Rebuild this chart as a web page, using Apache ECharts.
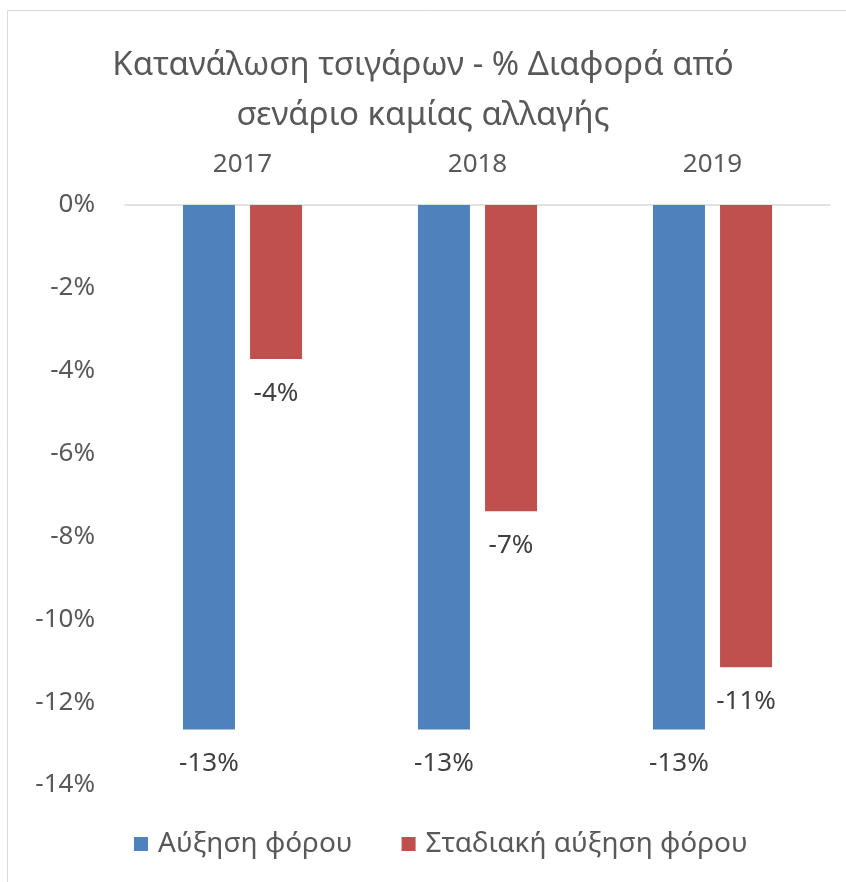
<!DOCTYPE html>
<html>
<head>
<meta charset="utf-8">
<script src="https://cdn.jsdelivr.net/npm/echarts@6/dist/echarts.min.js"></script>
<style>
  html, body { margin: 0; padding: 0; background: #fff; }
  #chart { width: 846px; height: 882px; }
</style>
</head>
<body>
<div id="chart"></div>
<script>
// data
var years = ['2017', '2018', '2019'];
var seriesNames = ['Αύξηση φόρου', 'Σταδιακή αύξηση φόρου'];
var taxRise = [-12.66, -12.66, -12.66];
var gradualRise = [-3.72, -7.39, -11.16];

var textFont = '"Noto Sans", sans-serif';

var chart = echarts.init(document.getElementById('chart'));

var barLabel = {
    show: true,
    position: 'bottom',
    distance: 21,
    color: '#404040',
    fontSize: 26,
    fontFamily: textFont,
    formatter: function (p) {
        return Math.round(p.value) + '%';
    }
};

var option = {
    backgroundColor: '#fff',
    animation: false,
    graphic: [{
        type: 'rect',
        shape: { x: 7.5, y: 10.5, width: 860, height: 900 },
        style: { fill: 'none', stroke: '#d9d9d9', lineWidth: 1 },
        silent: true
    }],
    title: {
        text: 'Κατανάλωση τσιγάρων - % Διαφορά από\nσενάριο καμίας αλλαγής',
        left: 'center',
        top: 36,
        textStyle: {
            color: '#595959',
            fontSize: 33,
            fontWeight: 'normal',
            fontFamily: textFont,
            lineHeight: 50
        }
    },
    legend: {
        bottom: 19,
        left: 129,
        itemWidth: 14,
        itemHeight: 14,
        itemGap: 49,
        icon: 'rect',
        textStyle: {
            color: '#595959',
            fontSize: 28,
            fontFamily: textFont,
            padding: [0, 0, 0, 5]
        },
        data: seriesNames
    },
    grid: {
        left: 125,
        right: 16,
        top: 205,
        bottom: 97
    },
    xAxis: {
        type: 'category',
        position: 'top',
        data: years,
        axisLine: { lineStyle: { color: '#d9d9d9', width: 1.5 } },
        axisTick: { show: false },
        axisLabel: {
            color: '#595959',
            fontSize: 26,
            fontFamily: textFont,
            margin: 27
        }
    },
    yAxis: {
        type: 'value',
        min: -14,
        max: 0,
        interval: 2,
        axisLine: { show: false },
        axisTick: { show: false },
        splitLine: { show: false },
        axisLabel: {
            color: '#595959',
            fontSize: 26,
            fontFamily: textFont,
            margin: 30,
            formatter: '{value}%'
        }
    },
    series: [{
        name: seriesNames[0],
        type: 'bar',
        data: taxRise,
        barWidth: 52,
        barGap: '29%',
        itemStyle: { color: '#4f81bd' },
        label: barLabel
    }, {
        name: seriesNames[1],
        type: 'bar',
        data: gradualRise,
        barWidth: 52,
        itemStyle: { color: '#c0504d' },
        label: barLabel
    }]
};

chart.setOption(option);
</script>
</body>
</html>
